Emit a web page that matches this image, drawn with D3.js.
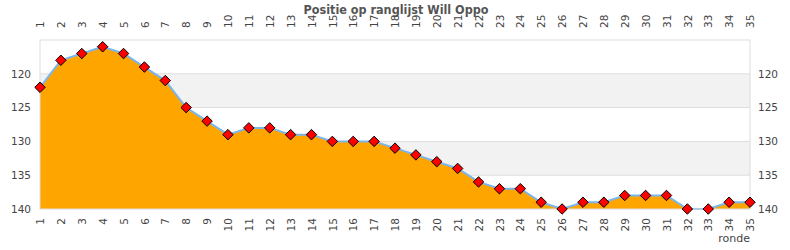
<!DOCTYPE html>
<html>
<head>
<meta charset="utf-8">
<script src="https://cdn.jsdelivr.net/npm/d3@7"></script>
<style>
  body { margin: 0; background: #fff; }
</style>
</head>
<body>
<div id="chart"></div>
<script>
// rounds and ranking positions
const ROUNDS = d3.range(1, 36);
const POSITIONS = [122, 118, 117, 116, 117, 119, 121, 125, 127, 129,
  128, 128, 129, 129, 130, 130, 130, 131, 132, 133,
  134, 136, 137, 137, 139, 140, 139, 139, 138, 138,
  138, 140, 140, 139, 139];
const Y_TICKS = [120, 125, 130, 135, 140];
const BANDS = [[120, 125], [130, 135]];
const TITLE = "Positie op ranglijst Will Oppo";

const W = 790, H = 250;
const margin = {top: 40, right: 40, bottom: 41, left: 40};
const width = W - margin.left - margin.right;
const height = H - margin.top - margin.bottom;
const FONT = "DejaVu Sans";

const x = d3.scalePoint().domain(ROUNDS).range([0, width]);
const y = d3.scaleLinear().domain([115, 140]).range([0, height]);

const svg = d3.select("#chart").append("svg")
  .attr("width", W).attr("height", H)
  .attr("font-family", FONT);

svg.append("text")
  .attr("x", W / 2 + 1).attr("y", 14)
  .attr("text-anchor", "middle")
  .attr("font-family", "DejaVu Sans Condensed")
  .attr("font-size", 12.5)
  .attr("font-weight", "bold")
  .attr("fill", "#555")
  .text(TITLE);

const g = svg.append("g")
  .attr("transform", "translate(" + margin.left + "," + margin.top + ")");

// alternating bands
g.selectAll(".band").data(BANDS).enter().append("rect")
  .attr("x", 0).attr("width", width)
  .attr("y", d => y(d[0]))
  .attr("height", d => y(d[1]) - y(d[0]))
  .attr("fill", "#f2f2f2");

// gridlines
g.selectAll(".grid").data(Y_TICKS.slice(0, -1)).enter().append("line")
  .attr("x1", 0).attr("x2", width)
  .attr("y1", d => y(d)).attr("y2", d => y(d))
  .attr("stroke", "#ddd");

// area + line
const area = d3.area()
  .x((d, i) => x(ROUNDS[i]))
  .y0(height)
  .y1(d => y(d));
const line = d3.line()
  .x((d, i) => x(ROUNDS[i]))
  .y(d => y(d));

g.append("path").datum(POSITIONS)
  .attr("d", area).attr("fill", "#ffa500");
g.append("path").datum(POSITIONS)
  .attr("d", line).attr("fill", "none")
  .attr("stroke", "#7cb5ec").attr("stroke-width", 2);

// frame
g.append("rect")
  .attr("width", width).attr("height", height)
  .attr("fill", "none").attr("stroke", "#ddd");

// markers
g.selectAll(".pt").data(POSITIONS).enter().append("path")
  .attr("d", d3.symbol().type(d3.symbolDiamond2).size(70))
  .attr("transform", (d, i) => "translate(" + x(ROUNDS[i]) + "," + y(d) + ")")
  .attr("fill", "red").attr("stroke", "#000").attr("stroke-width", 1)
  .attr("stroke-linejoin", "round");

// axes
function styleAxis(sel) {
  sel.attr("font-family", FONT);
  sel.select(".domain").remove();
  sel.selectAll(".tick line").remove();
  sel.selectAll("text").attr("fill", "#444").attr("font-size", 10.5);
}

g.append("g").call(d3.axisLeft(y).tickValues(Y_TICKS).tickSize(0).tickPadding(9))
  .call(styleAxis);
g.append("g").attr("transform", "translate(" + width + ",0)")
  .call(d3.axisRight(y).tickValues(Y_TICKS).tickSize(0).tickPadding(8))
  .call(styleAxis);

g.append("g").attr("transform", "translate(0," + height + ")")
  .call(d3.axisBottom(x).tickSize(0))
  .call(styleAxis)
  .selectAll("text")
  .attr("transform", "rotate(-90)")
  .attr("text-anchor", "end")
  .attr("x", -9).attr("y", 0).attr("dy", "0.35em");

g.append("g")
  .call(d3.axisTop(x).tickSize(0))
  .call(styleAxis)
  .selectAll("text")
  .attr("transform", "rotate(-90)")
  .attr("text-anchor", "start")
  .attr("x", 12).attr("y", 0).attr("dy", "0.35em");

svg.append("text")
  .attr("x", margin.left + width).attr("y", H - 8)
  .attr("text-anchor", "end")
  .attr("font-size", 11).attr("fill", "#444")
  .text("ronde");
</script>
</body>
</html>
